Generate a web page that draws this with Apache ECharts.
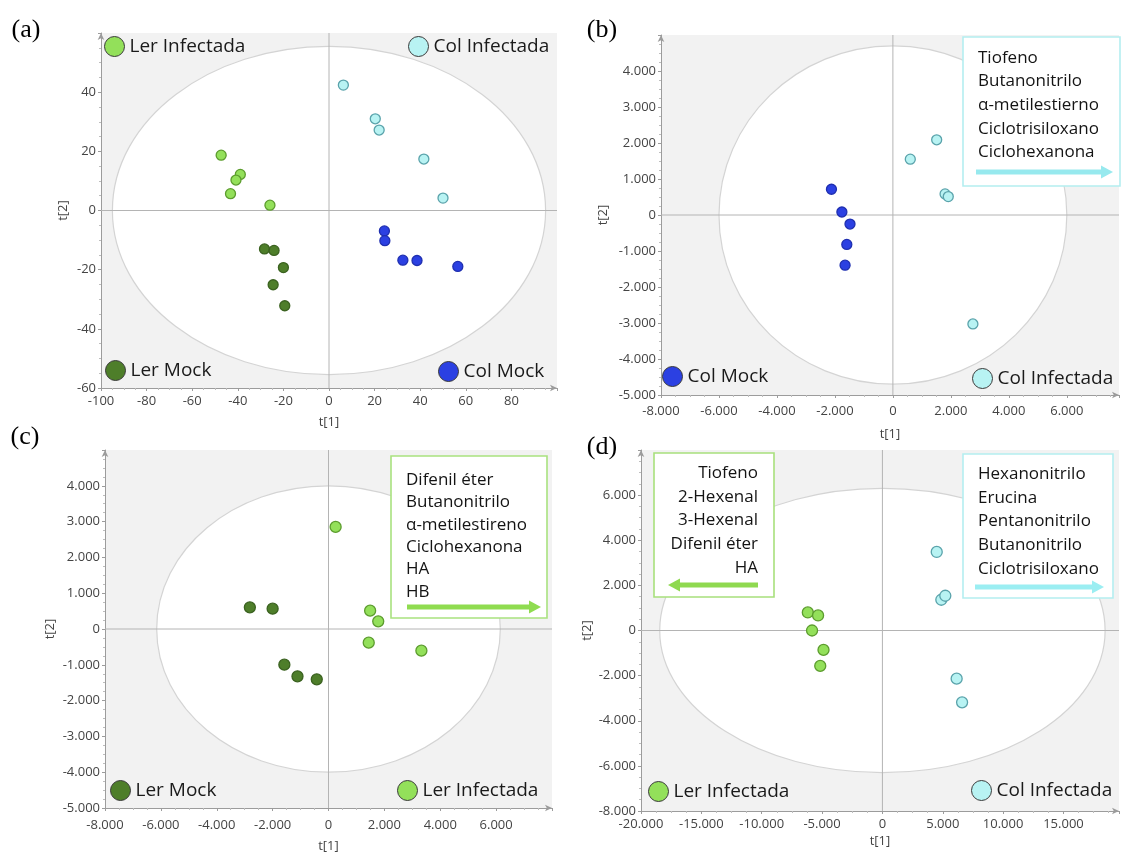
<!DOCTYPE html>
<html>
<head>
<meta charset="utf-8">
<script src="https://cdn.jsdelivr.net/npm/echarts@6/dist/echarts.min.js"></script>
<style>
  html, body { margin: 0; padding: 0; background: #ffffff; }
  #chart { width: 1124px; height: 856px; }
</style>
</head>
<body>
<div id="chart"></div>
<script>
// ---- Scores t[1], t[2] for each panel ----
// (a) all four groups
const aLerInf  = [[-47.3, 18.7], [-38.9, 12.2], [-40.8, 10.3], [-43.2, 5.7], [-25.9, 1.8]];
const aLerMock = [[-28.3, -13.0], [-24.1, -13.5], [-20.0, -19.3], [-24.5, -25.1], [-19.4, -32.2]];
const aColInf  = [[6.3, 42.4], [20.3, 31.0], [22.0, 27.2], [41.6, 17.4], [50.0, 4.2]];
const aColMock = [[24.3, -6.9], [24.5, -10.2], [32.4, -16.8], [38.6, -16.9], [56.5, -18.9]];
// (b) Col Mock vs Col Infectada
const bColMock = [[-2120, 715], [-1760, 84], [-1480, -251], [-1590, -817], [-1650, -1393]];
const bColInf  = [[1510, 2089], [600, 1551], [1800, 585], [1910, 511], [2760, -3027]];
// (c) Ler Mock vs Ler Infectada
const cLerMock = [[-2815, 606], [-2000, 569], [-1580, -997], [-1110, -1323], [-420, -1407]];
const cLerInf  = [[255, 2852], [1490, 513], [1780, 214], [1440, -382], [3325, -606]];
// (d) Ler Infectada vs Col Infectada
const dLerInf  = [[-6180, 800], [-5330, 667], [-5830, 0], [-4880, -859], [-5150, -1570]];
const dColInf  = [[4500, 3481], [4880, 1363], [5210, 1541], [6150, -2133], [6600, -3185]];

// Hotelling T2 ellipses: [centre t1, centre t2, half-width, half-height]
const ellipseA = [0, 0, 95, 55.5];
const ellipseB = [0, 0, 6000, 4700];
const ellipseC = [0, 0, 6150, 4000];
const ellipseD = [0, 0, 18450, 6300];

// Axis ranges [min, max, interval]
const xRangeA = [-100, 100, 20],    yRangeA = [-60, 60, 20];
const xRangeB = [-8000, 7800, 2000], yRangeB = [-5000, 5000, 1000];
const xRangeC = [-8000, 8000, 2000], yRangeC = [-5000, 5000, 1000];
const xRangeD = [-20000, 19600, 5000], yRangeD = [-8000, 8000, 2000];

// Compounds listed in the annotation boxes
const boxB      = ['Tiofeno', 'Butanonitrilo', 'α-metilestierno', 'Ciclotrisiloxano', 'Ciclohexanona'];
const boxC      = ['Difenil éter', 'Butanonitrilo', 'α-metilestireno', 'Ciclohexanona', 'HA', 'HB'];
const boxDLeft  = ['Tiofeno', '2-Hexenal', '3-Hexenal', 'Difenil éter', 'HA'];
const boxDRight = ['Hexanonitrilo', 'Erucina', 'Pentanonitrilo', 'Butanonitrilo', 'Ciclotrisiloxano'];

const panelLabels = ['(a)', '(b)', '(c)', '(d)'];

// ---- styling ----
const FONT = '"Open Sans", "Noto Sans", sans-serif';
const groupStyle = {
  'Ler Infectada': { color: '#93e05a', borderColor: '#5c9c2e' },
  'Ler Mock':      { color: '#4e7e2a', borderColor: '#3b6220' },
  'Col Infectada': { color: '#b8f3f3', borderColor: '#5aa3ab' },
  'Col Mock':      { color: '#2b40e2', borderColor: '#1f2fb0' }
};

const fmt = v => {
  const s = String(Math.abs(v)).replace(/\B(?=(\d{3})+(?!\d))/g, '.');
  return (v < 0 ? '-' : '') + s;
};

const grids = [
  { left: 101, top: 33,  width: 456, height: 355 },
  { left: 661, top: 35,  width: 458, height: 360 },
  { left: 105, top: 450, width: 447, height: 358 },
  { left: 641, top: 450, width: 478, height: 361 }
].map(g => Object.assign(g, { show: true, backgroundColor: '#f2f2f2', borderWidth: 0 }));

const axisColor = '#9c9c9c';
function makeAxis(kind, gi, range, nameGap, labelMargin) {
  return {
    type: 'value', gridIndex: gi,
    min: range[0], max: range[1], interval: range[2],
    name: kind === 'x' ? 't[1]' : 't[2]',
    nameLocation: 'middle', nameGap: nameGap,
    nameTextStyle: { color: '#444', fontSize: 13, fontFamily: FONT },
    splitLine: { show: false },
    axisLine: { onZero: false, symbol: ['none', 'arrow'], symbolSize: [5, 7],
                lineStyle: { color: axisColor, width: 1 } },
    axisTick: { show: true, length: 3, lineStyle: { color: axisColor } },
    minorTick: { show: true, splitNumber: 4, length: 2, lineStyle: { color: '#bdbdbd' } },
    axisLabel: { margin: labelMargin, showMaxLabel: false, formatter: fmt,
                 color: '#444', fontSize: 13, fontFamily: FONT }
  };
}

const xAxes = [
  makeAxis('x', 0, xRangeA, 28, 7),
  makeAxis('x', 1, xRangeB, 33, 10),
  makeAxis('x', 2, xRangeC, 32, 11),
  makeAxis('x', 3, xRangeD, 24, 7)
];
const yAxes = [
  makeAxis('y', 0, yRangeA, 31, 5),
  makeAxis('y', 1, yRangeB, 51, 5),
  makeAxis('y', 2, yRangeC, 48, 5),
  makeAxis('y', 3, yRangeD, 47, 5)
];

// Ellipse plus the zero cross-lines, placed through the axis scales
function ellipseSeries(gi, e) {
  return {
    type: 'custom', xAxisIndex: gi, yAxisIndex: gi, silent: true, z: 1,
    data: [e],
    renderItem: (params, api) => {
      const cx = api.value(0), cy = api.value(1), rx = api.value(2), ry = api.value(3);
      const c = api.coord([cx, cy]);
      const ex = api.coord([cx + rx, cy]);
      const ey = api.coord([cx, cy + ry]);
      const o = api.coord([0, 0]);
      const cs = params.coordSys;
      return {
        type: 'group',
        children: [
          { type: 'ellipse', shape: { cx: c[0], cy: c[1], rx: ex[0] - c[0], ry: c[1] - ey[1] },
            style: { fill: '#ffffff', stroke: '#d4d4d4', lineWidth: 1.2 } },
          { type: 'line', shape: { x1: o[0], y1: cs.y, x2: o[0], y2: cs.y + cs.height },
            style: { stroke: '#b4b4b4', lineWidth: 1 } },
          { type: 'line', shape: { x1: cs.x, y1: o[1], x2: cs.x + cs.width, y2: o[1] },
            style: { stroke: '#b4b4b4', lineWidth: 1 } }
        ]
      };
    }
  };
}

function scatter(gi, name, data, size) {
  const st = groupStyle[name];
  return {
    type: 'scatter', name: name, xAxisIndex: gi, yAxisIndex: gi, z: 3,
    symbol: 'circle', symbolSize: size, data: data,
    itemStyle: { color: st.color, borderColor: st.borderColor, borderWidth: 1.3, opacity: 1 }
  };
}

const series = [
  ellipseSeries(0, ellipseA), ellipseSeries(1, ellipseB),
  ellipseSeries(2, ellipseC), ellipseSeries(3, ellipseD),
  scatter(0, 'Ler Infectada', aLerInf, 10),
  scatter(0, 'Ler Mock', aLerMock, 10),
  scatter(0, 'Col Infectada', aColInf, 10),
  scatter(0, 'Col Mock', aColMock, 10),
  scatter(1, 'Col Mock', bColMock, 10),
  scatter(1, 'Col Infectada', bColInf, 10),
  scatter(2, 'Ler Mock', cLerMock, 11),
  scatter(2, 'Ler Infectada', cLerInf, 11),
  scatter(3, 'Ler Infectada', dLerInf, 11),
  scatter(3, 'Col Infectada', dColInf, 11)
];

// Corner group keys: one legend per corner
function cornerLegend(name, left, top) {
  return {
    data: [name], left: left, top: top, padding: 0,
    itemWidth: 20, itemHeight: 20, icon: 'circle', selectedMode: false,
    itemStyle: { borderColor: '#3a3a3a', borderWidth: 1 },
    textStyle: { fontSize: 19, fontFamily: FONT, color: '#1a1a1a', padding: [0, 0, 0, 0] }
  };
}
const legends = [
  cornerLegend('Ler Infectada', 104, 36),
  cornerLegend('Col Infectada', 408, 36),
  cornerLegend('Ler Mock', 105, 360),
  cornerLegend('Col Mock', 438, 361),
  cornerLegend('Col Mock', 662, 366),
  cornerLegend('Col Infectada', 972, 368),
  cornerLegend('Ler Mock', 110, 780),
  cornerLegend('Ler Infectada', 397, 780),
  cornerLegend('Ler Infectada', 648, 781),
  cornerLegend('Col Infectada', 971, 780)
];

// Annotation box with a list of compounds and a direction arrow
const NOTE_Z = 50;
function noteBox(o) {
  const children = [
    { type: 'rect', z: NOTE_Z, shape: { x: o.x, y: o.y, width: o.w, height: o.h },
      style: { fill: '#ffffff', stroke: o.border, lineWidth: 1.6 } }
  ];
  o.lines.forEach((t, i) => {
    children.push({
      type: 'text', z: NOTE_Z + 1,
      style: { text: t, x: o.tx, y: o.ty + i * o.lh, fill: '#141414',
               fontSize: 17, fontFamily: FONT,
               textAlign: o.align, align: o.align,
               textVerticalAlign: 'middle', verticalAlign: 'middle' }
    });
  });
  const dir = o.ax2 > o.ax1 ? 1 : -1;
  const hl = 12, hw = 6.5;
  children.push({
    type: 'line', z: NOTE_Z + 1,
    shape: { x1: o.ax1, y1: o.ay, x2: o.ax2 - dir * (hl - 1), y2: o.ay },
    style: { stroke: o.arrow, lineWidth: 5 }
  });
  children.push({
    type: 'polygon', z: NOTE_Z + 1,
    shape: { points: [[o.ax2 - dir * hl, o.ay - hw], [o.ax2, o.ay], [o.ax2 - dir * hl, o.ay + hw]] },
    style: { fill: o.arrow }
  });
  return { type: 'group', silent: true, children: children };
}

const graphics = [
  noteBox({ x: 963, y: 37, w: 157, h: 149, border: '#b4eef0', lines: boxB,
            tx: 978, ty: 58, lh: 23.6, align: 'left',
            ax1: 976, ax2: 1113, ay: 172, arrow: '#97e9ee' }),
  noteBox({ x: 391, y: 456, w: 156, h: 162, border: '#a9e27f', lines: boxC,
            tx: 406, ty: 480, lh: 22.4, align: 'left',
            ax1: 407, ax2: 541, ay: 607, arrow: '#8fdc50' }),
  noteBox({ x: 654, y: 453, w: 120, h: 144, border: '#a8e07c', lines: boxDLeft,
            tx: 758, ty: 473, lh: 23.8, align: 'right',
            ax1: 758, ax2: 668, ay: 585, arrow: '#8fd950' }),
  noteBox({ x: 963, y: 454, w: 150, h: 144, border: '#b4eef0', lines: boxDRight,
            tx: 978, ty: 474, lh: 23.8, align: 'left',
            ax1: 975, ax2: 1104, ay: 587, arrow: '#9beef2' })
];
const labelPos = [[26, 30], [602, 30], [25, 437], [602, 447]];
panelLabels.forEach((t, i) => {
  graphics.push({
    type: 'text', silent: true, z: NOTE_Z,
    style: { text: t, x: labelPos[i][0], y: labelPos[i][1], fill: '#000',
             fontSize: 26, fontFamily: '"Liberation Serif", "DejaVu Serif", serif',
             textAlign: 'center', align: 'center',
             textVerticalAlign: 'middle', verticalAlign: 'middle' }
  });
});

const chart = echarts.init(document.getElementById('chart'), null, { renderer: 'canvas' });
chart.setOption({
  animation: false,
  backgroundColor: '#ffffff',
  grid: grids,
  xAxis: xAxes,
  yAxis: yAxes,
  legend: legends,
  series: series,
  graphic: graphics
});
</script>
</body>
</html>
